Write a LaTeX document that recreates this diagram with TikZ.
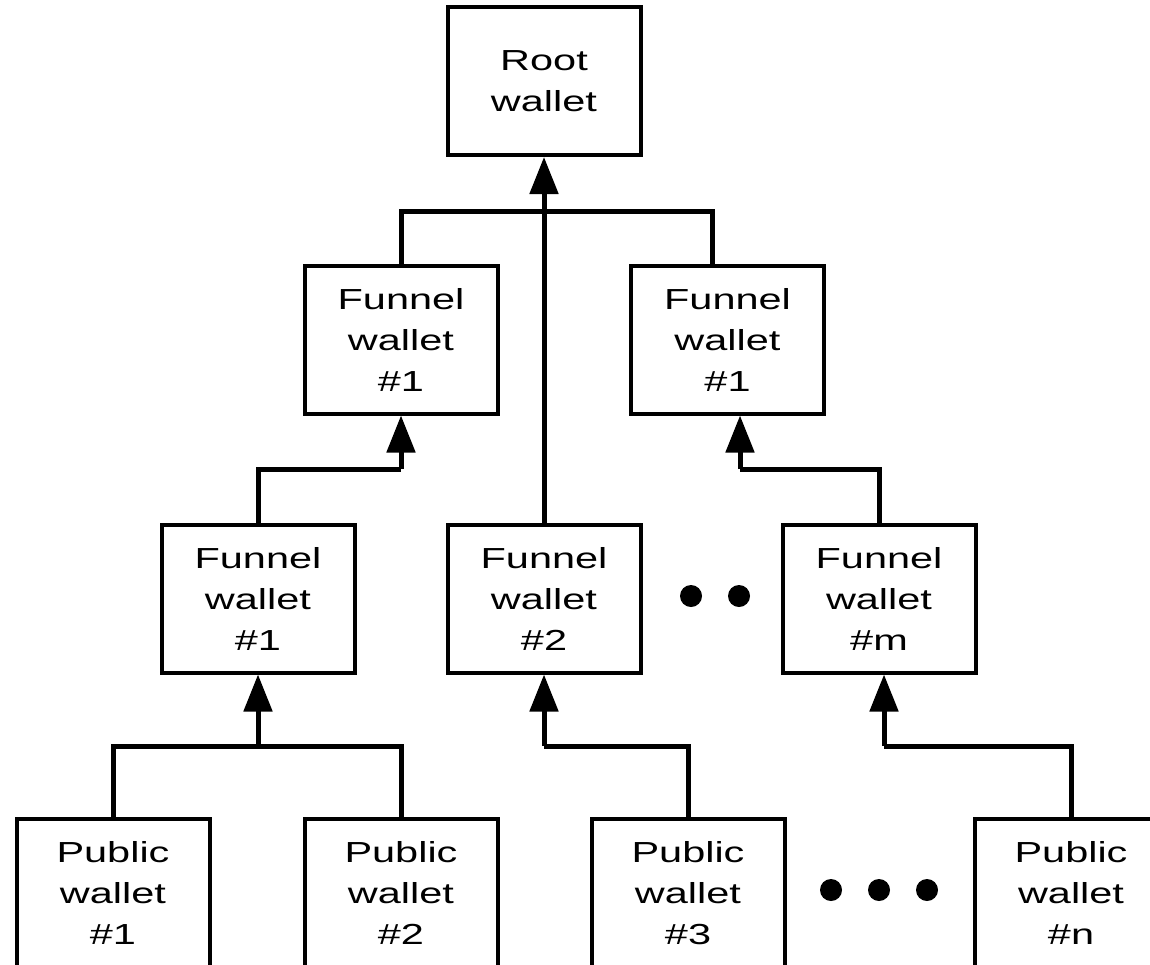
\documentclass[tikz,border=0pt]{standalone}
\usepackage{fontspec}
\usepackage{tikz}
\usetikzlibrary{arrows.meta}
\newfontfamily\wfamily{Liberation Sans}[FakeStretch=1.43]
\newcommand{\walletfont}{\wfamily\fontsize{29}{41}\selectfont}

\begin{document}
\begin{tikzpicture}
[x=1pt,y=1pt,%
  wallet/.style={shape=rectangle,draw,line width=4pt,minimum width=193pt,%
    minimum height=148pt,inner sep=0pt,align=center,font=\walletfont},%
  link/.style={line width=5pt},%
  up/.style={link,-{Triangle[width=28pt,length=37pt]}},%
  dot/.style={shape=circle,fill,inner sep=0pt,minimum size=22pt}]
\useasboundingbox (0,0) rectangle (1150,-964);
\clip (0,0) rectangle (1150,-964);
% top
\node[wallet] (root) at (544,-81) {Root\\wallet};
\node[wallet] (fa) at (401,-339.5) {Funnel\\wallet\\\#1};
\node[wallet] (fb) at (727.5,-339.5) {Funnel\\wallet\\\#1};
% middle row
\node[wallet] (f1) at (258,-598.5) {Funnel\\wallet\\\#1};
\node[wallet] (f2) at (544,-598.5) {Funnel\\wallet\\\#2};
\node[wallet] (fm) at (879,-598.5) {Funnel\\wallet\\\#m};
\node[dot] (d1) at (691,-596) {};
\node[dot] (d2) at (739,-596) {};
% bottom row
\node[wallet] (p1) at (113,-893) {Public\\wallet\\\#1};
\node[wallet] (p2) at (401,-893) {Public\\wallet\\\#2};
\node[wallet] (p3) at (688,-893) {Public\\wallet\\\#3};
\node[wallet] (pn) at (1071,-893) {Public\\wallet\\\#n};
\node[dot] (d3) at (831,-890) {};
\node[dot] (d4) at (879,-890) {};
\node[dot] (d5) at (927,-890) {};
% junctions
\coordinate (j0) at (544,-211);
\coordinate (ja) at (401,-469);
\coordinate (jb) at (740,-469);
\coordinate (j1) at (258,-746);
\coordinate (j2) at (544,-746);
\coordinate (j3) at (884,-746);
% links
\draw[up] (f2.north) -- (root.south);
\draw[link] (fa.north) |- (j0) -| ([xshift=-15.5pt]fb.north);
\draw[link] (f1.north) |- (ja);
\draw[up] (ja) -- (fa.south);
\draw[link] (fm.north) |- (jb);
\draw[up] (jb) -- (jb |- fb.south);
\draw[link] (p1.north) |- (j1) -| (p2.north);
\draw[up] (j1) -- (f1.south);
\draw[link] (p3.north) |- (j2);
\draw[up] (j2) -- (f2.south);
\draw[link] (pn.north) |- (j3);
\draw[up] (j3) -- (j3 |- fm.south);
\end{tikzpicture}
\end{document}
